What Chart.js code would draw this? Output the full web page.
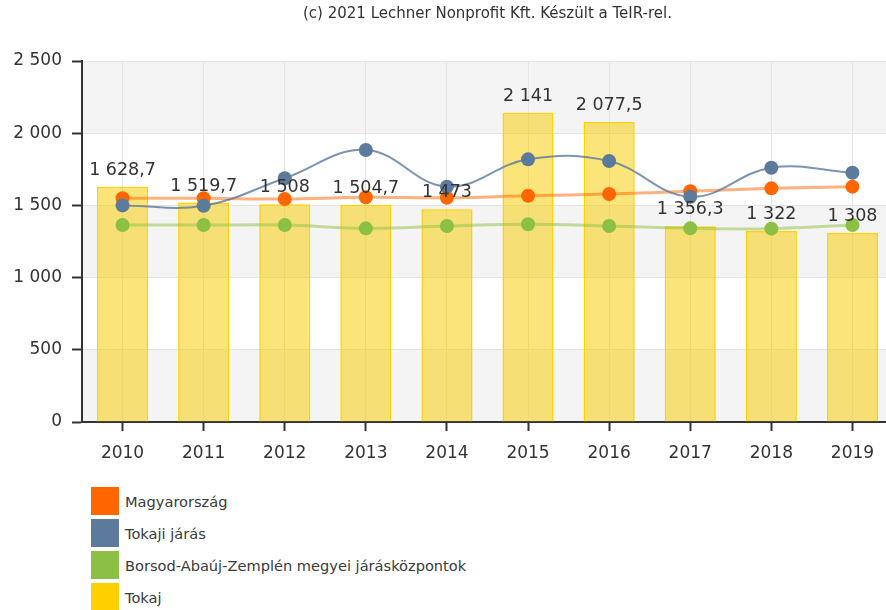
<!DOCTYPE html>
<html>
<head>
<meta charset="utf-8">
<script src="https://cdn.jsdelivr.net/npm/chart.js@4/dist/chart.umd.min.js"></script>
<style>
  html, body { margin: 0; padding: 0; width: 886px; height: 610px; overflow: hidden; background: #fff; }
  #wrap { position: absolute; left: 0; top: 0; width: 900px; height: 475px; }
  #legend { position: absolute; left: 91px; top: 487px; font-family: "DejaVu Sans", sans-serif; font-size: 14.6px; color: #3a3a3a; }
  .item { display: flex; align-items: center; height: 28px; margin-bottom: 4px; }
  .box { width: 28px; height: 28px; margin-right: 6px; }
</style>
</head>
<body>
<div id="wrap"><canvas id="c"></canvas></div>
<div id="legend"></div>
<script>
const years = ['2010', '2011', '2012', '2013', '2014', '2015', '2016', '2017', '2018', '2019'];
const magyarorszag = [1549, 1549, 1544, 1556, 1553, 1567, 1579, 1598, 1618, 1630];
const tokajiJaras = [1500, 1498, 1688, 1884, 1630, 1819, 1807, 1560, 1761, 1726];
const bazJaraskozpontok = [1364, 1364, 1364, 1341, 1357, 1369, 1357, 1341, 1339, 1364];
const tokaj = [1628.7, 1519.7, 1508, 1504.7, 1473, 2141, 2077.5, 1356.3, 1322, 1308];
const yTicks = [0, 500, 1000, 1500, 2000, 2500];
const creditText = '(c) 2021 Lechner Nonprofit Kft. Készült a TeIR-rel.';

const FONT = '"DejaVu Sans", sans-serif';

// Hungarian number format: space thousands separator, comma decimal
function huFormat(v) {
  const parts = String(v).split('.');
  const intPart = parts[0].replace(/\B(?=(\d{3})+(?!\d))/g, ' ');
  return parts[1] ? intPart + ',' + parts[1] : intPart;
}

// alternating horizontal bands behind the grid
const bandsPlugin = {
  id: 'bands',
  beforeDraw(chart) {
    const { ctx, chartArea: a, scales: { y } } = chart;
    ctx.save();
    ctx.fillStyle = '#f4f4f4';
    for (let i = 0; i < yTicks.length - 1; i += 2) {
      const y0 = y.getPixelForValue(yTicks[i]);
      const y1 = y.getPixelForValue(yTicks[i + 1]);
      ctx.fillRect(a.left, y1, a.right - a.left, y0 - y1);
    }
    const top = y.getPixelForValue(2000);
    ctx.fillRect(a.left, a.top, a.right - a.left, top - a.top);
    ctx.restore();
  }
};

// credit line centred over the plot area
const creditPlugin = {
  id: 'credit',
  afterDraw(chart) {
    const { ctx, chartArea: a } = chart;
    ctx.save();
    ctx.font = '15px ' + FONT;
    ctx.fillStyle = '#333';
    ctx.textAlign = 'center';
    ctx.textBaseline = 'middle';
    ctx.fillText(creditText, (a.left + a.right) / 2, 14);
    ctx.restore();
  }
};

// value labels above the Tokaj bars
const barLabelPlugin = {
  id: 'barLabels',
  afterDatasetsDraw(chart) {
    const { ctx } = chart;
    chart.data.datasets.forEach((ds, di) => {
      if (ds.type !== 'bar') return;
      const meta = chart.getDatasetMeta(di);
      ctx.save();
      ctx.font = '17.5px ' + FONT;
      ctx.fillStyle = '#333';
      ctx.textAlign = 'center';
      ctx.textBaseline = 'alphabetic';
      meta.data.forEach((el, i) => {
        ctx.fillText(huFormat(ds.data[i]), el.x, el.y - 12);
      });
      ctx.restore();
    });
  }
};

const lineCommon = {
  type: 'line',
  tension: 0.4,
  pointRadius: 7,
  pointHoverRadius: 7,
  pointBorderWidth: 0,
  fill: false
};

const chart = new Chart(document.getElementById('c'), {
  type: 'bar',
  data: {
    labels: years,
    datasets: [
      Object.assign({}, lineCommon, {
        label: 'Magyarország', data: magyarorszag, order: 1,
        borderColor: 'rgba(255,102,0,0.5)', borderWidth: 3,
        pointBackgroundColor: '#ff6600', legendColor: '#ff6600'
      }),
      Object.assign({}, lineCommon, {
        label: 'Tokaji járás', data: tokajiJaras, order: 0,
        borderColor: 'rgba(91,121,156,0.8)', borderWidth: 2,
        pointBackgroundColor: '#5b7a9c', legendColor: '#5b7a9c'
      }),
      Object.assign({}, lineCommon, {
        label: 'Borsod-Abaúj-Zemplén megyei járásközpontok', data: bazJaraskozpontok, order: 2,
        borderColor: 'rgba(141,192,68,0.5)', borderWidth: 3,
        pointBackgroundColor: '#8cc044', legendColor: '#8cc044'
      }),
      {
        type: 'bar', label: 'Tokaj', data: tokaj, order: 3,
        backgroundColor: 'rgba(247,205,0,0.52)', borderColor: '#ffd200', borderWidth: 1.5,
        categoryPercentage: 1, barPercentage: 0.63, legendColor: '#ffd000'
      }
    ]
  },
  options: {
    responsive: true,
    maintainAspectRatio: false,
    animation: false,
    layout: { padding: { top: 61, right: 5, left: 0, bottom: 0 } },
    plugins: { legend: { display: false }, tooltip: { enabled: false } },
    scales: {
      x: {
        offset: true,
        grid: { offset: false, color: '#e4e4e4', tickColor: '#333', tickLength: 9, tickWidth: 2 },
        border: { color: '#333', width: 2 },
        ticks: { font: { family: FONT, size: 17 }, color: '#333', padding: 12 },
        afterFit(s) { s.height = 53; }
      },
      y: {
        min: 0, max: 2500,
        afterBuildTicks(s) { s.ticks = yTicks.map(v => ({ value: v })); },
        grid: { color: '#e4e4e4', tickColor: '#333', tickLength: 10, tickWidth: 2 },
        border: { color: '#333', width: 2 },
        ticks: { font: { family: FONT, size: 17 }, color: '#333', padding: 10, callback: v => huFormat(v) },
        afterFit(s) { s.width = 82; }
      }
    }
  },
  plugins: [bandsPlugin, creditPlugin, barLabelPlugin]
});

// legend list built from the datasets
const legend = document.getElementById('legend');
chart.data.datasets.forEach(ds => {
  const item = document.createElement('div');
  item.className = 'item';
  const box = document.createElement('div');
  box.className = 'box';
  box.style.background = ds.legendColor;
  const txt = document.createElement('span');
  txt.textContent = ds.label;
  item.appendChild(box);
  item.appendChild(txt);
  legend.appendChild(item);
});
</script>
</body>
</html>
